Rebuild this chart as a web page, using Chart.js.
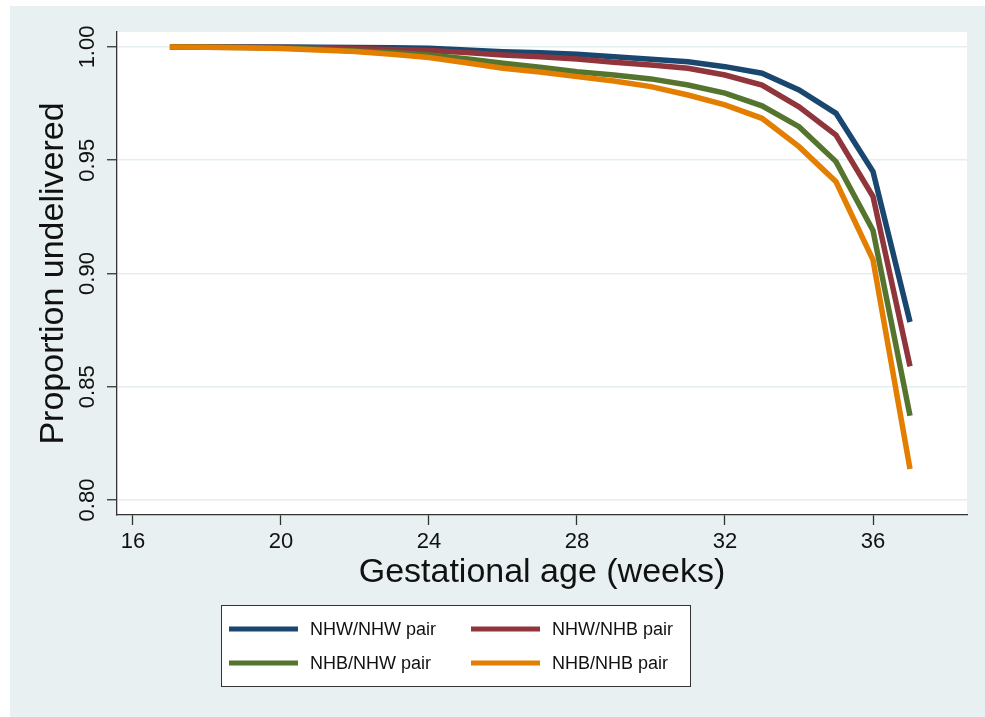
<!DOCTYPE html>
<html>
<head>
<meta charset="utf-8">
<script src="https://cdn.jsdelivr.net/npm/chart.js@4.4.0/dist/chart.umd.min.js"></script>
<style>
  html, body { margin: 0; padding: 0; background: #fff; }
  canvas { display: block; }
</style>
</head>
<body>
<canvas id="survChart" width="985" height="717"></canvas>
<script>
// gestational week and proportion still undelivered, one list per pair type
const weeks   = [17, 18, 19, 20, 21, 22, 23, 24, 25, 26, 27, 28, 29, 30, 31, 32, 33, 34, 35, 36, 37];
const nhwNhw  = [1.000, 1.000, 1.000, 1.000, 0.9999, 0.9998, 0.9996, 0.9994, 0.9987, 0.9979, 0.9974, 0.9968, 0.9957, 0.9946, 0.9935, 0.9913, 0.9884, 0.9810, 0.9707, 0.9450, 0.8786];
const nhwNhb  = [1.000, 1.000, 0.9999, 0.9998, 0.9996, 0.9993, 0.9989, 0.9984, 0.9976, 0.9965, 0.9957, 0.9947, 0.9932, 0.9920, 0.9906, 0.9876, 0.9832, 0.9736, 0.9611, 0.9340, 0.8590];
const nhbNhw  = [1.000, 0.9999, 0.9998, 0.9995, 0.9990, 0.9982, 0.9975, 0.9965, 0.9948, 0.9928, 0.9910, 0.9891, 0.9876, 0.9859, 0.9832, 0.9796, 0.9740, 0.9648, 0.9494, 0.9190, 0.8372];
const nhbNhb  = [1.000, 0.9999, 0.9997, 0.9993, 0.9987, 0.9980, 0.9968, 0.9953, 0.9930, 0.9906, 0.9889, 0.9869, 0.9850, 0.9825, 0.9788, 0.9744, 0.9685, 0.9560, 0.9405, 0.9060, 0.8137];

const seriesNames  = ['NHW/NHW pair', 'NHW/NHB pair', 'NHB/NHW pair', 'NHB/NHB pair'];
const seriesValues = [nhwNhw, nhwNhb, nhbNhw, nhbNhb];
const seriesColors = ['#1a476f', '#90353b', '#55752f', '#e37e00'];

const xTicks = [16, 20, 24, 28, 32, 36];
const yTicks = [0.80, 0.85, 0.90, 0.95, 1.00];

const FONT = "'Liberation Sans', Arial, Helvetica, sans-serif";
const PANEL = '#e8f0f2';

// -------- backgrounds: outer panel + white plot region --------
const bgPlugin = {
  id: 'bg',
  beforeDraw(chart) {
    const c = chart.ctx, a = chart.chartArea;
    c.save();
    c.fillStyle = '#fff';
    c.fillRect(0, 0, chart.width, chart.height);
    c.fillStyle = PANEL;
    c.fillRect(10, 6, chart.width - 10, chart.height - 6);
    c.fillStyle = '#fff';
    c.fillRect(a.left, a.top, a.right - a.left, a.bottom - a.top);
    c.restore();
  }
};

// -------- boxed two-column legend under the x title --------
const boxLegend = {
  id: 'boxLegend',
  afterDraw(chart) {
    const c = chart.ctx;
    const box = {x: 221, y: 605, w: 469, h: 81};
    c.save();
    c.fillStyle = '#fff';
    c.fillRect(box.x, box.y, box.w, box.h);
    c.strokeStyle = '#333';
    c.lineWidth = 1;
    c.strokeRect(box.x + 0.5, box.y + 0.5, box.w, box.h);
    const cols = [229, 471], rows = [629, 663];
    c.font = '18px ' + FONT;
    c.textBaseline = 'middle';
    chart.data.datasets.forEach((ds, i) => {
      const x = cols[i % 2], y = rows[Math.floor(i / 2)];
      c.strokeStyle = ds.borderColor;
      c.lineWidth = 5;
      c.beginPath();
      c.moveTo(x, y);
      c.lineTo(x + 69, y);
      c.stroke();
      c.fillStyle = '#111';
      c.fillText(ds.label, x + 81, y + 1);
    });
    c.restore();
  }
};

const ctx = document.getElementById('survChart').getContext('2d');
const survChart = new Chart(ctx, {
  type: 'line',
  data: {
    datasets: seriesNames.map((name, i) => ({
      label: name,
      data: weeks.map((w, k) => ({x: w, y: seriesValues[i][k]})),
      borderColor: seriesColors[i],
      backgroundColor: seriesColors[i],
      borderWidth: 5.5,
      pointRadius: 0,
      tension: 0,
      order: 4 - i
    }))
  },
  options: {
    responsive: false,
    animation: false,
    layout: { padding: { left: 33.6, top: 32, right: 18, bottom: 123.6 } },
    plugins: {
      legend: { display: false },
      tooltip: { enabled: false }
    },
    scales: {
      x: {
        type: 'linear',
        min: 15.57,
        max: 38.54,
        afterBuildTicks: s => { s.ticks = xTicks.map(v => ({value: v})); },
        afterFit: s => { s.height = 78.4; },
        ticks: {
          font: { family: FONT, size: 22 },
          color: '#111',
          padding: 4,
          maxRotation: 0,
          callback: v => String(v)
        },
        grid: { drawOnChartArea: false, drawTicks: true, tickLength: 10, tickColor: '#333', tickWidth: 1.3 },
        border: { display: true, color: '#333', width: 1.3 },
        title: {
          display: true,
          text: 'Gestational age (weeks)',
          font: { family: FONT, size: 34 },
          color: '#111',
          padding: 0
        }
      },
      y: {
        type: 'linear',
        min: 0.7934,
        max: 1.0066,
        afterBuildTicks: s => { s.ticks = yTicks.map(v => ({value: v})); },
        afterFit: s => { s.width = 83.4; },
        ticks: {
          font: { family: FONT, size: 22 },
          color: '#111',
          padding: -2,
          minRotation: 90,
          maxRotation: 90,
          crossAlign: 'center',
          callback: v => v.toFixed(2)
        },
        grid: { color: '#e4eef1', lineWidth: 1.5, drawTicks: true, tickLength: 10, tickColor: '#333', tickWidth: 1.3 },
        border: { display: true, color: '#333', width: 1.3 },
        title: {
          display: true,
          text: 'Proportion undelivered',
          font: { family: FONT, size: 34 },
          color: '#111',
          padding: 0
        }
      }
    }
  },
  plugins: [bgPlugin, boxLegend]
});
</script>
</body>
</html>
